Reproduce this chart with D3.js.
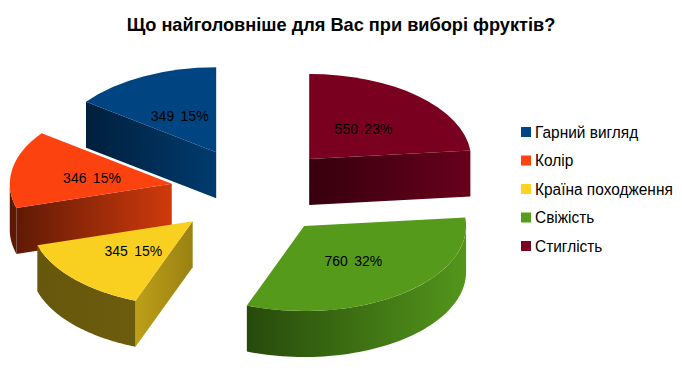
<!DOCTYPE html>
<html>
<head>
<meta charset="utf-8">
<script src="https://cdn.jsdelivr.net/npm/d3@7"></script>
<style>
  html, body { margin: 0; background: #fff; }
  svg { display: block; }
  text { font-family: "Liberation Sans", Arial, sans-serif; fill: #000; }
</style>
</head>
<body>
<div id="chart"></div>
<script>
const chartTitle = 'Що найголовніше для Вас при виборі фруктів?';
const categories = ['Гарний вигляд', 'Колір', 'Країна походження', 'Свіжість', 'Стиглість'];
const counts = [349, 346, 345, 760, 550];
const percents = [15, 15, 15, 32, 23];

const legendColors = ['#004586', '#ff420e', '#ffd320', '#579d1c', '#7e0021'];
const topColors = ['#004581', '#fc430f', '#f9d01f', '#569a1b', '#7a0020'];
// [left, right] colours of the side walls
const rimColors = [['#001f3c', '#003b6e'], ['#5a1804', '#601a05'], ['#66570c', '#6c5c0e'], ['#274a0b', '#53961b'], ['#3a000f', '#66001b']];
const edgeColors = [['#001f3c', '#003b6e'], ['#5f1a05', '#d03a0c'], ['#bd9f18', '#9a8213'], ['#274a0b', '#53961b'], ['#36000e', '#68001c']];

const width = 682, height = 385;
const cx = 253.5, cy = 191.4;
const rx = 162, ry = 85, depth = 46;
const explodeX = 83, explodeY = 43.7;
const drawOrder = [0, 4, 1, 2, 3];

const svg = d3.select('#chart').append('svg')
  .attr('width', width)
  .attr('height', height);
const defs = svg.append('defs');

svg.append('text')
  .attr('x', 341)
  .attr('y', 31)
  .attr('text-anchor', 'middle')
  .attr('font-size', '18.2px')
  .attr('font-weight', 'bold')
  .text(chartTitle);

// Slices run anticlockwise from 12 o'clock
const slices = d3.pie().sort(null).startAngle(0).endAngle(-2 * Math.PI)(counts);
const topArc = d3.arc().innerRadius(0).outerRadius(rx);
const line = d3.line();
const pt = (o, a, drop = 0) => [o[0] + rx * Math.sin(a), o[1] - ry * Math.cos(a) + drop];

function addGradient(id, stops, x1, x2) {
  const g = defs.append('linearGradient')
    .attr('id', id)
    .attr('gradientUnits', 'userSpaceOnUse')
    .attr('x1', x1).attr('x2', x2)
    .attr('y1', 0).attr('y2', 0);
  g.append('stop').attr('offset', 0).attr('stop-color', stops[0]);
  g.append('stop').attr('offset', 1).attr('stop-color', stops[1]);
}

// A side wall only shows if dropping down from the edge leaves the slice
function edgeVisible(a, mid) {
  const e = [rx * Math.sin(a), -ry * Math.cos(a)];
  const m = [rx * Math.sin(mid), -ry * Math.cos(mid)];
  return e[0] * (e[0] * m[1] - e[1] * m[0]) < 0;
}

const pieGroup = svg.append('g').attr('class', 'pie');

drawOrder.forEach(i => {
  const d = slices[i];
  const mid = (d.startAngle + d.endAngle) / 2;
  const o = [cx + explodeX * Math.sin(mid), cy - explodeY * Math.cos(mid)];
  const g = pieGroup.append('g');

  [d.startAngle, d.endAngle].forEach((a, k) => {
    if (!edgeVisible(a, mid)) return;
    const p = pt(o, a);
    const id = `edge-${i}-${k}`;
    addGradient(id, edgeColors[i], Math.min(o[0], p[0]), Math.max(o[0], p[0]));
    g.append('path')
      .attr('d', line([o, p, [p[0], p[1] + depth], [o[0], o[1] + depth]]) + 'Z')
      .attr('fill', `url(#${id})`);
  });

  // Rim, front half of the ellipse only
  const lo = Math.max(d.endAngle, -1.5 * Math.PI);
  const hi = Math.min(d.startAngle, -0.5 * Math.PI);
  if (lo < hi) {
    const angles = d3.range(0, 61).map(t => hi + (lo - hi) * t / 60);
    const upper = angles.map(a => pt(o, a));
    const lower = angles.slice().reverse().map(a => pt(o, a, depth));
    const xs = d3.extent(upper, p => p[0]);
    addGradient(`rim-${i}`, rimColors[i], xs[0], xs[1]);
    g.append('path')
      .attr('d', line(upper.concat(lower)) + 'Z')
      .attr('fill', `url(#rim-${i})`);
  }

  g.append('path')
    .attr('d', topArc(d))
    .attr('transform', `translate(${o[0]},${o[1]}) scale(1,${ry / rx})`)
    .attr('fill', topColors[i]);
});

// Value labels sit on top of everything
drawOrder.forEach(i => {
  const d = slices[i];
  const mid = (d.startAngle + d.endAngle) / 2;
  const o = [cx + explodeX * Math.sin(mid), cy - explodeY * Math.cos(mid)];
  pieGroup.append('text')
    .attr('x', o[0] + 0.5 * rx * Math.sin(mid))
    .attr('y', o[1] - 0.5 * ry * Math.cos(mid) + 1.5)
    .attr('dy', '0.35em')
    .attr('text-anchor', 'middle')
    .attr('font-size', '14px')
    .attr('word-spacing', '2.5px')
    .text(`${counts[i]} ${percents[i]}%`);
});

// Legend
const legendY = d3.scalePoint().domain(categories).range([132, 246]);
const legend = svg.append('g').attr('class', 'legend');
categories.forEach((c, i) => {
  legend.append('rect')
    .attr('x', 521)
    .attr('y', legendY(c) - 5)
    .attr('width', 10)
    .attr('height', 10)
    .attr('fill', legendColors[i]);
  const label = legend.append('text')
    .attr('x', 535)
    .attr('y', legendY(c))
    .attr('dy', '0.35em')
    .attr('font-size', '16px')
    .text(c);
  // The original's legend type is a little narrower than its height
  label.attr('textLength', label.node().getComputedTextLength() * 0.965)
    .attr('lengthAdjust', 'spacingAndGlyphs');
});
</script>
</body>
</html>
